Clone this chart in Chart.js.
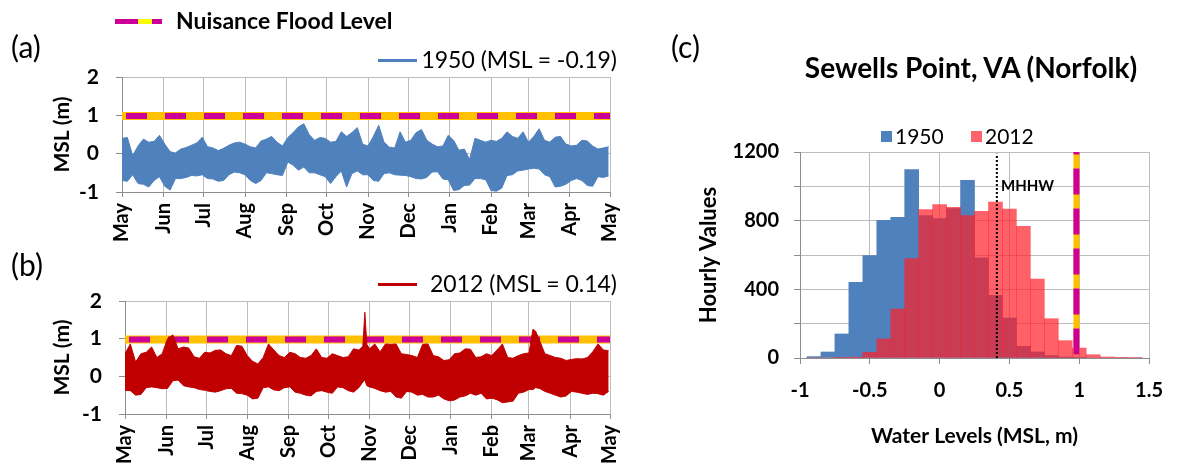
<!DOCTYPE html>
<html>
<head>
<meta charset="utf-8">
<script src="https://cdn.jsdelivr.net/npm/chart.js@4.4.1/dist/chart.umd.min.js"></script>
<style>
  body { margin: 0; background: #fff; font-family: Lato, sans-serif; }
  #wrap { position: relative; width: 1178px; height: 472px; overflow: hidden; }
  canvas { position: absolute; }
  .t { position: absolute; white-space: nowrap; color: #000; line-height: 1.2; }
  .sw { position: absolute; }
</style>
</head>
<body>
<div id="wrap">
  <canvas id="chartA" width="640" height="250" style="left:0;top:0"></canvas>
  <canvas id="chartB" width="640" height="222" style="left:0;top:250px"></canvas>
  <canvas id="chartC" width="538" height="472" style="left:640px;top:0"></canvas>

  <div class="t" style="left:11px;top:28px;font-size:30px">(a)</div>
  <div class="t" style="left:11px;top:246px;font-size:30px">(b)</div>
  <div class="t" style="left:671px;top:28px;font-size:30px">(c)</div>

  <!-- nuisance flood legend -->
  <div class="sw" style="left:115px;top:19px;width:23px;height:5px;background:#CC0099"></div>
  <div class="sw" style="left:138px;top:19px;width:14px;height:5px;background:#FFFF00"></div>
  <div class="sw" style="left:152px;top:19px;width:10px;height:5px;background:#CC0099"></div>
  <div class="t" style="left:176px;top:7px;font-size:23px;font-weight:bold">Nuisance Flood Level</div>

  <!-- series legends -->
  <div class="sw" style="left:378px;top:59px;width:39px;height:3px;background:#4F81BD"></div>
  <div class="t" style="right:561px;top:46px;font-size:23px">1950 (MSL = -0.19)</div>
  <div class="sw" style="left:378px;top:283px;width:39px;height:3px;background:#C00000"></div>
  <div class="t" style="right:561px;top:270px;font-size:23px">2012 (MSL = 0.14)</div>

  <!-- histogram title and legend -->
  <div class="t" style="left:771px;width:400px;text-align:center;top:51px;font-size:28px;font-weight:bold">Sewells Point, VA (Norfolk)</div>
  <div class="sw" style="left:881px;top:131px;width:11px;height:11px;background:#4F81BD"></div>
  <div class="t" style="left:895px;top:123px;font-size:21px">1950</div>
  <div class="sw" style="left:971px;top:131px;width:11px;height:11px;background:#FF626A"></div>
  <div class="t" style="left:985px;top:123px;font-size:21px">2012</div>
</div>

<script>
// month ticks, days since May 1
const monthDays = [0, 31, 61, 92, 123, 153, 184, 214, 245, 276, 304, 335, 365];
const monthLabels = ['May', 'Jun', 'Jul', 'Aug', 'Sep', 'Oct', 'Nov', 'Dec', 'Jan', 'Feb', 'Mar', 'Apr', 'May'];

// 1950: band of hourly water levels, read as upper / lower envelope every 4 days
const daysA = [0, 4, 8, 12, 16, 20, 24, 28, 32, 36,
  40, 44, 48, 52, 56, 60, 64, 68, 72, 76,
  80, 84, 88, 92, 96, 100, 104, 108, 112, 116,
  120, 124, 128, 132, 136, 140, 144, 148, 152, 156,
  160, 164, 168, 172, 176, 180, 184, 188, 192, 196,
  200, 204, 208, 212, 216, 220, 224, 228, 232, 236,
  240, 244, 248, 252, 256, 260, 264, 268, 272, 276,
  280, 284, 288, 292, 296, 300, 304, 308, 312, 316,
  320, 324, 328, 332, 336, 340, 344, 348, 352, 356,
  360, 364];
const upperA = [0.40, 0.42, -0.05, 0.20, 0.38, 0.30, 0.32, 0.48, 0.25, 0.05,
  0.02, 0.12, 0.16, 0.22, 0.28, 0.43, 0.18, 0.15, 0.08, 0.14,
  0.22, 0.28, 0.30, 0.25, 0.18, 0.15, 0.33, 0.38, 0.45, 0.30,
  0.20, 0.42, 0.55, 0.70, 0.78, 0.50, 0.35, 0.42, 0.40, 0.30,
  0.32, 0.57, 0.45, 0.55, 0.68, 0.25, 0.20, 0.45, 0.74, 0.30,
  0.17, 0.15, 0.57, 0.30, 0.35, 0.55, 0.63, 0.35, 0.25, 0.18,
  0.20, 0.48, 0.35, 0.09, 0.12, -0.15, 0.40, 0.35, 0.30, 0.35,
  0.32, 0.40, 0.57, 0.45, 0.40, 0.57, 0.30, 0.45, 0.65, 0.35,
  0.30, 0.43, 0.45, 0.25, 0.20, 0.22, 0.35, 0.33, 0.20, 0.12,
  0.15, 0.18];
const lowerA = [-0.70, -0.72, -0.55, -0.78, -0.80, -0.87, -0.70, -0.60, -0.85, -0.95,
  -0.65, -0.65, -0.62, -0.57, -0.58, -0.55, -0.65, -0.66, -0.72, -0.70,
  -0.55, -0.48, -0.50, -0.55, -0.70, -0.78, -0.70, -0.50, -0.52, -0.55,
  -0.57, -0.22, -0.30, -0.43, -0.35, -0.50, -0.50, -0.55, -0.60, -0.78,
  -0.60, -0.45, -0.87, -0.52, -0.45, -0.55, -0.55, -0.70, -0.72, -0.52,
  -0.50, -0.55, -0.56, -0.57, -0.60, -0.65, -0.66, -0.62, -0.48, -0.47,
  -0.66, -0.68, -0.96, -0.94, -0.83, -0.82, -0.65, -0.65, -0.68, -0.96,
  -0.98, -0.90, -0.57, -0.55, -0.45, -0.43, -0.40, -0.38, -0.40, -0.55,
  -0.60, -0.87, -0.85, -0.80, -0.70, -0.65, -0.70, -0.83, -0.85, -0.60,
  -0.62, -0.58];

// 2012: same reading, extra points around the Nov and Mar spikes
const daysB = [0, 4, 8, 12, 16, 20, 24, 28, 32, 36,
  40, 44, 48, 52, 56, 60, 64, 68, 72, 76,
  80, 84, 88, 92, 96, 100, 104, 108, 112, 116,
  120, 124, 128, 132, 136, 140, 144, 148, 152, 156,
  160, 164, 168, 172, 176,
  179, 180.5, 182,
  184, 188, 192, 196, 200, 204, 208, 212, 216, 220,
  224, 228, 232, 236, 240, 244, 248, 252, 256, 260,
  264, 268, 272, 276, 280, 284, 288, 292, 296, 300,
  304,
  307, 309,
  312, 316, 320, 324, 328, 332, 336, 340, 344, 348, 352, 356, 360, 364];
const upperB = [0.60, 0.86, 0.38, 0.60, 0.64, 0.78, 0.50, 0.60, 1.00, 1.10,
  0.73, 0.78, 0.75, 0.52, 0.48, 0.64, 0.62, 0.69, 0.70, 0.60,
  0.55, 0.82, 0.80, 0.55, 0.40, 0.33, 0.50, 0.86, 0.70, 0.55,
  0.50, 0.64, 0.60, 0.50, 0.48, 0.55, 0.73, 0.50, 0.48, 0.60,
  0.55, 0.50, 0.52, 0.73, 0.70,
  0.80, 1.70, 0.85,
  0.73, 0.86, 0.65, 0.86, 0.85, 0.86, 0.60, 0.58, 0.55, 0.50,
  0.85, 0.86, 0.55, 0.52, 0.42, 0.44, 0.60, 0.62, 0.73, 0.72,
  0.50, 0.52, 0.60, 0.55, 0.70, 0.86, 0.50, 0.48, 0.55, 0.60,
  0.62,
  1.25, 1.20,
  0.95, 0.60, 0.55, 0.50, 0.48, 0.42, 0.45, 0.47, 0.46, 0.50, 0.65, 0.86, 0.70, 0.68];
const lowerB = [-0.37, -0.38, -0.50, -0.48, -0.30, -0.28, -0.30, -0.33, -0.32, -0.12,
  -0.10, -0.25, -0.28, -0.30, -0.35, -0.37, -0.40, -0.42, -0.38, -0.33,
  -0.32, -0.45, -0.46, -0.50, -0.60, -0.58, -0.30, -0.28, -0.36, -0.38,
  -0.30, -0.28, -0.42, -0.45, -0.50, -0.52, -0.40, -0.38, -0.42, -0.45,
  -0.28, -0.30, -0.38, -0.42, -0.30,
  -0.15, -0.10, -0.25,
  -0.28, -0.32, -0.38, -0.42, -0.40, -0.55, -0.58, -0.40, -0.42, -0.50,
  -0.48, -0.55, -0.55, -0.50, -0.60, -0.65, -0.63, -0.55, -0.52, -0.45,
  -0.50, -0.45, -0.60, -0.58, -0.62, -0.70, -0.68, -0.66, -0.45, -0.42,
  -0.35,
  -0.35, -0.30,
  -0.32, -0.40, -0.45, -0.50, -0.55, -0.52, -0.40, -0.42, -0.45, -0.48, -0.45, -0.46, -0.50, -0.40];

// histogram, 0.1 m bins
const binCenters = [-0.9, -0.8, -0.7, -0.6, -0.5, -0.4, -0.3, -0.2, -0.1, 0.0, 0.1, 0.2,
  0.3, 0.4, 0.5, 0.6, 0.7, 0.8, 0.9, 1.0, 1.1, 1.2, 1.3, 1.4];
const count1950 = [8, 35, 140, 441, 596, 802, 820, 1097, 829, 812, 870, 1035,
  583, 365, 233, 68, 35, 14, 6, 2, 0, 0, 0, 0];
const count2012 = [0, 0, 2, 5, 33, 111, 285, 579, 864, 893, 878, 829,
  854, 909, 868, 767, 460, 229, 101, 58, 19, 6, 4, 3];

const floodLevel = 0.98;   // nuisance flood level, m above MSL
const mhhw = 0.41;
const yearSpan = [0, 365];

const gridColor = '#BDBDBD';
const axisColor = '#8C8C8C';
const floodOrange = '#FFC000';
const floodMagenta = '#CC0099';

const toPoints = (xs, ys) => xs.map((x, i) => ({ x: x, y: ys[i] }));

function seriesChart(id, days, upper, lower, color, pad) {
  return new Chart(document.getElementById(id), {
    type: 'line',
    data: {
      datasets: [
        { data: toPoints(days, upper), borderColor: color, backgroundColor: color, borderWidth: 1,
          pointRadius: 0, fill: '+1', tension: 0, order: 0 },
        { data: toPoints(days, lower), borderColor: color, borderWidth: 1,
          pointRadius: 0, fill: false, tension: 0, order: 1 },
        { data: toPoints(yearSpan, [floodLevel, floodLevel]), borderColor: floodMagenta, borderWidth: 6,
          borderDash: [21, 18], borderDashOffset: 35, borderCapStyle: 'butt', pointRadius: 0, fill: false, order: 2 },
        { data: toPoints(yearSpan, [floodLevel, floodLevel]), borderColor: floodOrange, borderWidth: 8,
          pointRadius: 0, fill: false, order: 3 }
      ]
    },
    options: {
      responsive: false, animation: false, devicePixelRatio: 1,
      layout: { padding: { top: pad.top, right: pad.right, left: 0, bottom: 0 } },
      plugins: { legend: { display: false }, tooltip: { enabled: false } },
      scales: {
        x: {
          type: 'linear', min: 0, max: 365,
          afterBuildTicks: s => { s.ticks = monthDays.map(v => ({ value: v })); },
          afterFit: s => { s.height = pad.xh; },
          ticks: { autoSkip: false, minRotation: 90, maxRotation: 90, padding: 6, color: '#000',
            font: { family: 'Lato', weight: 'bold', size: 20 }, callback: (v, i) => monthLabels[i] },
          grid: { color: gridColor, tickLength: 5, tickColor: axisColor },
          border: { color: axisColor }
        },
        y: {
          min: -1, max: 2,
          afterFit: s => { s.width = pad.yw; },
          ticks: { stepSize: 0.5, padding: 17, color: '#000',
            font: { family: 'Lato', weight: 'bold', size: 21 },
            callback: v => Number.isInteger(v) ? v : '' },
          grid: { color: gridColor, tickLength: 6,
            tickColor: c => Number.isInteger(c.tick.value) ? axisColor : 'rgba(0,0,0,0)' },
          border: { color: axisColor },
          title: { display: true, text: 'MSL (m)', color: '#000', padding: { top: 50, bottom: 0 },
            font: { family: 'Lato', weight: 'bold', size: 21 } }
        }
      }
    }
  });
}

seriesChart('chartA', daysA, upperA, lowerA, '#4F81BD', { top: 77, right: 20, yw: 122, xh: 58 });
seriesChart('chartB', daysB, upperB, lowerB, '#C00000', { top: 51, right: 18, yw: 125, xh: 58 });

const mhhwLabel = {
  id: 'mhhwLabel',
  afterDatasetsDraw(chart) {
    const { ctx, scales } = chart;
    ctx.save();
    ctx.font = 'bold 15px Lato';
    ctx.fillStyle = '#000';
    ctx.textBaseline = 'middle';
    ctx.fillText('MHHW', scales.x.getPixelForValue(0.44), scales.y.getPixelForValue(1000));
    ctx.restore();
  }
};

new Chart(document.getElementById('chartC'), {
  type: 'bar',
  data: {
    datasets: [
      { label: '1950', data: toPoints(binCenters, count1950), backgroundColor: '#4F81BD',
        grouped: false, barPercentage: 1, categoryPercentage: 1, order: 2 },
      { label: '2012', data: toPoints(binCenters, count2012), backgroundColor: 'rgba(255,30,40,0.7)',
        grouped: false, barPercentage: 1, categoryPercentage: 1, order: 1 },
      { type: 'line', data: toPoints([mhhw, mhhw], [0, 1190]), borderColor: '#000', borderWidth: 2,
        borderDash: [2, 2], pointRadius: 0, order: 0 },
      { type: 'line', data: toPoints([floodLevel, floodLevel], [20, 1200]), borderColor: floodOrange,
        borderWidth: 6, pointRadius: 0, order: 0 },
      { type: 'line', data: toPoints([floodLevel, floodLevel], [20, 1200]), borderColor: floodMagenta,
        borderWidth: 6, borderDash: [26, 14], borderCapStyle: 'butt', pointRadius: 0, order: -1 }
    ]
  },
  options: {
    responsive: false, animation: false, devicePixelRatio: 1,
    layout: { padding: { top: 152, right: 22, left: 0, bottom: 0 } },
    plugins: { legend: { display: false }, tooltip: { enabled: false } },
    scales: {
      x: {
        type: 'linear', min: -1, max: 1.5, offset: false,
        afterFit: s => { s.height = 114; },
        ticks: { stepSize: 0.25, padding: 15, maxRotation: 0, minRotation: 0, color: '#000',
          font: { family: 'Lato', weight: 'bold', size: 20 },
          callback: v => Math.abs(v * 2 - Math.round(v * 2)) < 1e-9 ? v : '' },
        grid: { color: gridColor, offset: false, tickLength: 6, tickColor: axisColor },
        border: { color: axisColor },
        title: { display: true, text: 'Water Levels (MSL, m)', color: '#000', padding: { top: 0, bottom: 23 },
          font: { family: 'Lato', weight: 'bold', size: 21 } }
      },
      y: {
        min: 0, max: 1200,
        afterFit: s => { s.width = 160; },
        ticks: { stepSize: 200, padding: 15, color: '#000',
          font: { family: 'Lato', weight: 'bold', size: 20 },
          callback: v => v % 400 === 0 ? v : '' },
        grid: { color: gridColor, tickLength: 6, tickColor: axisColor },
        border: { color: axisColor },
        title: { display: true, text: 'Hourly Values', color: '#000', padding: { top: 56, bottom: 0 },
          font: { family: 'Lato', weight: 'bold', size: 22 } }
      }
    }
  },
  plugins: [mhhwLabel]
});
</script>
</body>
</html>
